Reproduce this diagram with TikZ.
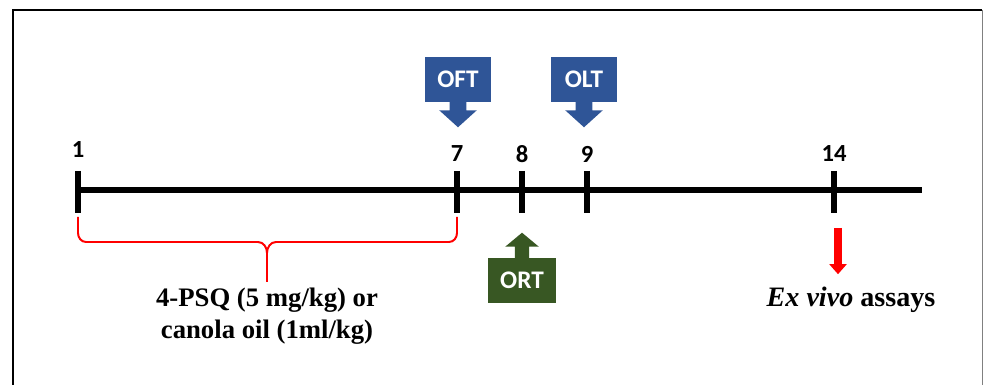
\documentclass[tikz,border=0pt]{standalone}
\usepackage{fontspec}
\setmainfont{Liberation Serif}
\newfontfamily\calfont{Carlito}
\usetikzlibrary{arrows.meta,positioning,calc}
\definecolor{testblue}{RGB}{47,85,151}
\definecolor{testgreen}{RGB}{56,87,35}

\begin{document}
\begin{tikzpicture}[>=Stealth,
    daynum/.style={font=\calfont\bfseries\fontsize{17.5}{17.5}\selectfont},
    testbox/.style={font=\calfont\bfseries\fontsize{18}{18}\selectfont, text=white,
        minimum width=1.65cm, minimum height=1.125cm, inner sep=0pt},
    daytick/.style={line width=4.25pt},
    bracepath/.style={red, line width=1.4pt},
    bigtext/.style={font=\bfseries\fontsize{19}{22.7}\selectfont, align=center}]
    \useasboundingbox (0,0) rectangle (24.6,9.625);

    % Frame
    \draw[line width=2pt] (0.325,0) -- (0.325,9.375) -- (24.55,9.375);
    \draw[gray, line width=0.6pt] (24.55,9.375) -- (24.55,0);

    % Timeline
    \coordinate (d1) at (1.95,4.875);
    \coordinate (d7) at (11.425,4.875);
    \coordinate (d8) at (13.05,4.875);
    \coordinate (d9) at (14.675,4.875);
    \coordinate (d14) at (20.85,4.875);
    \coordinate (tlend) at (23.05,4.875);

    \draw[line width=4.25pt] (d1) -- (tlend);
    \foreach \d in {d1,d7,d8,d9,d14}
        \draw[daytick] ($(\d)+(0,0.475)$) -- ($(\d)+(0,-0.575)$);

    \foreach \n/\x/\y in {1/1.95/5.875, 7/11.425/5.775, 8/13.05/5.775, 9/14.675/5.775, 14/20.85/5.775}
        \node[daynum] (n\n) at (\x,\y) {\n};

    % Tests
    \node[testbox, fill=testblue] (oft) at (11.45,7.6375) {OFT};
    \node[testbox, fill=testblue] (olt) at (14.6,7.6375) {OLT};
    \node[testbox, fill=testgreen, minimum width=1.7cm] (ort) at (13.05,2.6125) {ORT};

    \fill[testblue, shift={(oft.south)}] (-0.21,0.01) -- (-0.21,-0.2) -- (-0.47,-0.2)
        -- (0,-0.625) -- (0.47,-0.2) -- (0.21,-0.2) -- (0.21,0.01) -- cycle;
    \fill[testblue, shift={(olt.south)}] (-0.21,0.01) -- (-0.21,-0.2) -- (-0.47,-0.2)
        -- (0,-0.625) -- (0.47,-0.2) -- (0.21,-0.2) -- (0.21,0.01) -- cycle;
    \fill[testgreen, shift={(ort.north)}] (-0.18,-0.01) -- (-0.18,0.275) -- (-0.42,0.275)
        -- (0,0.625) -- (0.42,0.275) -- (0.18,0.275) -- (0.18,-0.01) -- cycle;

    % Treatment brace
    \draw[bracepath] (1.95,4.2) -- (1.95,3.8) to[out=-90,in=180] (2.15,3.575)
        -- (6.45,3.575) to[out=0,in=90] (6.675,3.3) -- (6.675,2.575);
    \draw[bracepath] (11.425,4.2) -- (11.425,3.8) to[out=-90,in=0] (11.225,3.575)
        -- (6.9,3.575) to[out=180,in=90] (6.675,3.3);
    \node[bigtext] (dose) at (6.675,1.725) {4-PSQ (5 mg/kg) or\\canola oil (1ml/kg)};

    % Ex vivo
    \node[bigtext, font=\bfseries\fontsize{20}{22.7}\selectfont] (exvivo) at (21.275,2.125) {\textit{Ex vivo} assays};
    \coordinate (assaytop) at (20.95,3.925);
    \draw[-{Triangle[length=0.25cm,width=0.42cm]}, red, line width=0.2cm]
        (assaytop) -- ($(assaytop |- exvivo.north)+(0,0.2)$);
\end{tikzpicture}
\end{document}
